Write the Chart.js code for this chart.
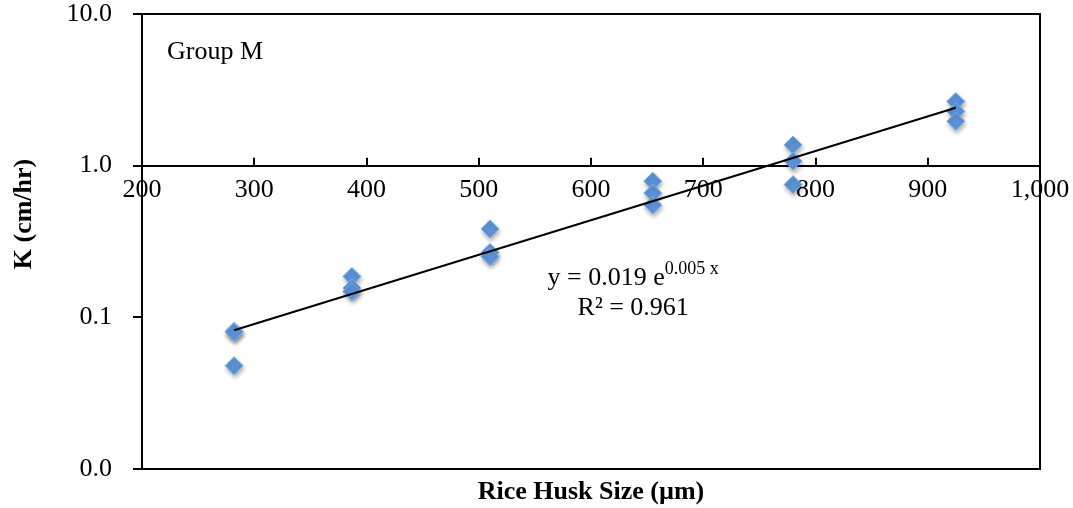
<!DOCTYPE html>
<html>
<head>
<meta charset="utf-8">
<script src="https://cdn.jsdelivr.net/npm/chart.js@4.4.1/dist/chart.umd.min.js"></script>
<style>
    html, body { margin: 0; padding: 0; background: #fff; }
</style>
</head>
<body>
<canvas id="kChart" width="1073" height="508"></canvas>
<script>
// Rice husk size (um) and three K readings per size (cm/hr)
const huskSizes = [282, 387, 510, 655, 780, 925];
const kRun1 = [0.081, 0.186, 0.383, 0.79, 1.37, 2.65];
const kRun2 = [0.080, 0.156, 0.268, 0.66, 1.07, 2.28];
const kRun3 = [0.048, 0.148, 0.252, 0.55, 0.75, 1.96];

const xTicks = [200, 300, 400, 500, 600, 700, 800, 900, 1000];
const xTickLabels = ['200', '300', '400', '500', '600', '700', '800', '900', '1,000'];
const yTicks = [0.01, 0.1, 1, 10];
const yTickLabels = ['0.0', '0.1', '1.0', '10.0'];

const groupLabel = 'Group M';
const xTitle = 'Rice Husk Size (\u00B5m)';
const yTitle = 'K (cm/hr)';
const eqMain = 'y = 0.019 e';
const eqPower = '0.005 x';
const eqR2 = 'R\u00B2 = 0.961';

const serif = '"Liberation Serif", "Times New Roman", serif';
Chart.defaults.color = '#000';

// scatter points
const points = [];
[kRun1, kRun2, kRun3].forEach(run => {
    run.forEach((k, i) => points.push({ x: huskSizes[i], y: k }));
});

// exponential trendline: least squares on ln(K)
const n = points.length;
const mx = points.reduce((s, p) => s + p.x, 0) / n;
const my = points.reduce((s, p) => s + Math.log(p.y), 0) / n;
let sxy = 0, sxx = 0;
points.forEach(p => {
    sxy += (p.x - mx) * (Math.log(p.y) - my);
    sxx += (p.x - mx) * (p.x - mx);
});
const fitB = sxy / sxx;
const fitA = Math.exp(my - fitB * mx);
const xMin = Math.min(...huskSizes);
const xMax = Math.max(...huskSizes);
const trend = [xMin, xMax].map(x => ({ x: x, y: fitA * Math.exp(fitB * x) }));

// keep the layout from growing around edge labels
const noPad = s => {
    s.paddingLeft = 0;
    s.paddingRight = 0;
    s.paddingTop = 0;
    s.paddingBottom = 0;
};

const extras = {
    id: 'extras',
    beforeDatasetDraw(chart, args) {
        if (args.index !== 1) return;
        const ctx = chart.ctx;
        ctx.save();
        ctx.shadowColor = 'rgba(0, 0, 0, 0.3)';
        ctx.shadowBlur = 4;
        ctx.shadowOffsetX = 1;
        ctx.shadowOffsetY = 3;
    },
    afterDatasetDraw(chart, args) {
        if (args.index === 1) chart.ctx.restore();
    },
    afterDraw(chart) {
        const { ctx, chartArea: a, scales } = chart;
        ctx.save();
        ctx.strokeStyle = '#000';
        ctx.lineWidth = 2;
        ctx.strokeRect(a.left, a.top, a.right - a.left, a.bottom - a.top);

        // x ticks point up from the axis at K = 1
        const y1 = scales.y.getPixelForValue(1);
        ctx.beginPath();
        scales.x.ticks.forEach(t => {
            const px = Math.round(scales.x.getPixelForValue(t.value));
            ctx.moveTo(px, y1);
            ctx.lineTo(px, y1 - 8);
        });
        ctx.stroke();

        ctx.fillStyle = '#000';
        ctx.textBaseline = 'alphabetic';

        ctx.font = '26px ' + serif;
        ctx.textAlign = 'left';
        ctx.fillText(groupLabel, a.left + 25, a.top + 45);

        // equation block
        const cx = a.left + (a.right - a.left) * 0.547;
        ctx.font = '26px ' + serif;
        const w1 = ctx.measureText(eqMain).width;
        ctx.font = '18px ' + serif;
        const w2 = ctx.measureText(eqPower).width;
        const startX = cx - (w1 + w2) / 2;
        ctx.font = '26px ' + serif;
        ctx.fillText(eqMain, startX, 285);
        ctx.font = '18px ' + serif;
        ctx.fillText(eqPower, startX + w1, 274);
        ctx.font = '26px ' + serif;
        ctx.textAlign = 'center';
        ctx.fillText(eqR2, cx, 315);

        // axis titles
        ctx.font = 'bold 26px ' + serif;
        ctx.fillText(xTitle, (a.left + a.right) / 2, a.bottom + 30);
        ctx.translate(31, a.top + 200);
        ctx.rotate(-Math.PI / 2);
        ctx.fillText(yTitle, 0, 0);
        ctx.restore();
    }
};

const tickFont = { family: serif, size: 26, lineHeight: 1 };

new Chart(document.getElementById('kChart'), {
    type: 'scatter',
    data: {
        datasets: [{
            type: 'line',
            label: 'Trend',
            data: trend,
            borderColor: '#000',
            borderWidth: 2,
            pointRadius: 0,
            fill: false
        }, {
            label: groupLabel,
            data: points,
            pointStyle: 'rectRot',
            pointRadius: 9,
            pointHoverRadius: 9,
            backgroundColor: '#5b93d6',
            borderColor: '#7fafe3',
            borderWidth: 1
        }]
    },
    options: {
        responsive: false,
        animation: false,
        layout: { padding: { left: 0, top: 14, right: 33, bottom: 39 } },
        plugins: {
            legend: { display: false },
            tooltip: { enabled: false }
        },
        scales: {
            x: {
                type: 'linear',
                min: 200,
                max: 1000,
                position: { y: 1 },
                afterBuildTicks: s => { s.ticks = xTicks.map(v => ({ value: v })); },
                afterFit: noPad,
                ticks: {
                    font: tickFont,
                    padding: 12,
                    maxRotation: 0,
                    autoSkip: false,
                    callback: (v, i) => xTickLabels[i]
                },
                grid: { drawOnChartArea: false, drawTicks: false },
                border: { color: '#000', width: 2 }
            },
            y: {
                type: 'logarithmic',
                min: 0.01,
                max: 10,
                afterBuildTicks: s => { s.ticks = yTicks.map(v => ({ value: v })); },
                afterFit: s => { noPad(s); s.width = 142; },
                ticks: {
                    font: tickFont,
                    padding: 21,
                    callback: (v, i) => yTickLabels[i]
                },
                grid: { drawOnChartArea: false, tickLength: 9, color: '#000', lineWidth: 2 },
                border: { color: '#000', width: 2 }
            }
        }
    },
    plugins: [extras]
});
</script>
</body>
</html>
